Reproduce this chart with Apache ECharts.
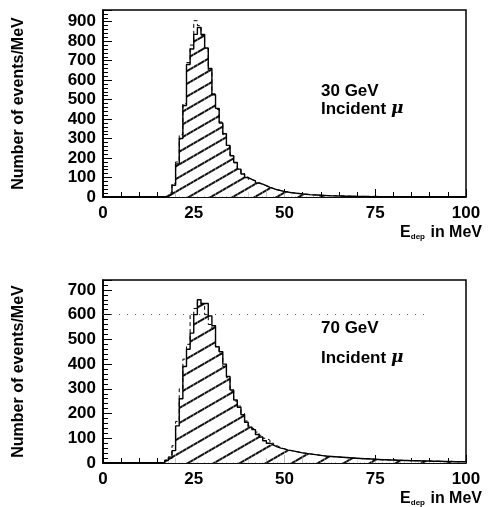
<!DOCTYPE html>
<html>
<head>
<meta charset="utf-8">
<script src="https://cdn.jsdelivr.net/npm/echarts@6/dist/echarts.min.js"></script>
<style>
  html, body { margin: 0; padding: 0; background: #fff; }
  #chart { width: 488px; height: 507px; }
</style>
</head>
<body>
<div id="chart"></div>
<script>
// Energy deposited per event, 1 MeV bins from 0 to 100 MeV.
// Histograms start at bin FIRST_BIN; earlier bins are empty.
const FIRST_BIN = 17;
const BIN_COUNT = 100;

// 30 GeV incident muons: measured (hatched, solid) and simulated (dashed)
const data30 = [5, 15, 60, 170, 300, 470, 680, 760, 835, 870, 835, 765, 660, 525, 455, 380, 325, 265, 212, 178,
  143, 118, 100, 90, 83, 72, 66, 58, 49, 43, 37, 33, 28, 25, 22, 20, 18, 16, 14, 12,
  11, 10, 9, 8, 7, 6, 6, 5, 5, 4, 4, 4, 3, 3, 3, 3, 2, 3, 2, 2,
  2, 2, 2, 2, 2, 1, 2, 1, 1, 1, 1, 1, 1, 1, 1, 1, 1, 1, 0, 1, 1, 1, 1];
const sim30 = [5, 20, 70, 180, 320, 480, 690, 780, 905, 880, 830, 760, 650, 530, 450, 385, 320, 260, 215, 175,
  145, 120, 102, 90, 82, 73, 65, 57, 50, 44, 38, 33, 29, 26, 23, 20, 18, 16, 14, 12,
  11, 10, 9, 8, 7, 6, 6, 5, 5, 4, 4, 4, 3, 3, 3, 3, 2, 3, 2, 2,
  2, 2, 2, 2, 2, 1, 2, 1, 1, 1, 1, 1, 1, 1, 1, 1, 1, 1, 0, 1, 1, 1, 1];

// 70 GeV incident muons
const data70 = [10, 20, 50, 150, 260, 390, 460, 525, 600, 660, 645, 645, 595, 555, 470, 450, 400, 350, 295, 255,
  225, 195, 165, 145, 135, 115, 105, 90, 80, 72, 65, 60, 57, 52, 50, 47, 44, 41, 39, 37,
  35, 33, 31, 29, 27, 26, 25, 24, 23, 22, 21, 20, 19, 18, 17, 17, 16, 15, 14, 13,
  13, 12, 12, 11, 11, 10, 10, 9, 9, 9, 8, 8, 8, 7, 7, 7, 6, 6, 6, 5, 5, 5, 5];
const sim70 = [12, 25, 70, 168, 300, 420, 480, 600, 625, 650, 640, 600, 560, 540, 470, 440, 390, 345, 290, 250,
  230, 200, 170, 150, 140, 125, 112, 100, 92, 80, 70, 62, 57, 52, 50, 47, 44, 41, 39, 37,
  35, 33, 31, 29, 27, 26, 25, 24, 23, 22, 21, 20, 19, 18, 17, 17, 16, 15, 14, 13,
  13, 12, 12, 11, 11, 10, 10, 9, 9, 9, 8, 8, 8, 7, 7, 7, 6, 6, 6, 5, 5, 5, 5];

// Axis settings
const xTicks = { min: 0, max: 100, interval: 25 };
const yMaxTop = 960;
const yMaxBottom = 740;
const guideLevel70 = 600;

const FONT = '"Liberation Sans", Arial, sans-serif';

// Full-length bin contents (zeros before FIRST_BIN)
function fullBins(arr) {
  const out = [];
  for (let i = 0; i < BIN_COUNT; i++) {
    const k = i - FIRST_BIN;
    out.push(k >= 0 && k < arr.length ? arr[k] : 0);
  }
  return out;
}
// Step outline points: [binStart, content] plus the closing edge
function stepPoints(arr) {
  const b = fullBins(arr);
  const pts = b.map((v, i) => [i, v]);
  pts.push([BIN_COUNT, b[BIN_COUNT - 1]]);
  return pts;
}
const binLabels = [];
for (let i = 0; i < BIN_COUNT; i++) binLabels.push(String(i));

function hatch(spacing) {
  return {
    symbol: 'rect',
    symbolSize: 1,
    color: '#111',
    dashArrayX: [1, 0],
    dashArrayY: [1.2, spacing],
    rotation: -Math.PI / 6
  };
}

function valueXAxis(gridIndex) {
  return {
    type: 'value', gridIndex: gridIndex,
    min: xTicks.min, max: xTicks.max, interval: xTicks.interval,
    axisLine: { show: true, lineStyle: { color: '#000', width: 1.5 } },
    axisTick: { show: true, inside: true, length: 8, lineStyle: { color: '#000', width: 1 } },
    minorTick: { show: true, splitNumber: 5, length: 5, lineStyle: { color: '#000', width: 1 } },
    splitLine: { show: false },
    axisLabel: { color: '#000', fontFamily: FONT, fontSize: 17, fontWeight: 'bold', margin: 8 },
    name: '{e|E}{s|dep}{t| in MeV}',
    nameLocation: 'end',
    nameGap: 16,
    nameTextStyle: {
      align: 'right', verticalAlign: 'top', padding: [28, 0, 0, 0],
      rich: {
        e: { fontFamily: FONT, fontSize: 16, fontWeight: 'bold', color: '#000' },
        s: { fontFamily: FONT, fontSize: 8, fontWeight: 'bold', color: '#000', verticalAlign: 'bottom', padding: [8, 1, 0, 0] },
        t: { fontFamily: FONT, fontSize: 16, fontWeight: 'bold', color: '#000' }
      }
    }
  };
}
function catXAxis(gridIndex) {
  return {
    type: 'category', gridIndex: gridIndex, data: binLabels, show: false,
    boundaryGap: true
  };
}
function yAxis(gridIndex, max) {
  return {
    type: 'value', gridIndex: gridIndex, min: 0, max: max, interval: 100,
    axisLine: { show: true, lineStyle: { color: '#000', width: 1.5 } },
    axisTick: { show: true, inside: true, length: 9, lineStyle: { color: '#000', width: 1 } },
    minorTick: { show: true, splitNumber: 5, length: 5, lineStyle: { color: '#000', width: 1 } },
    splitLine: { show: false },
    axisLabel: {
      color: '#000', fontFamily: FONT, fontSize: 17, fontWeight: 'bold', margin: 7,
      formatter: v => (v % 100 === 0 ? String(v) : '')
    },
    name: 'Number of events/MeV',
    nameLocation: 'middle',
    nameRotate: 90,
    nameGap: 76,
    nameTextStyle: { color: '#000', fontFamily: FONT, fontSize: 16, fontWeight: 'bold' }
  };
}

function histSeries(idx, data, sim, spacing) {
  return [
    {
      type: 'bar', xAxisIndex: idx * 2 + 1, yAxisIndex: idx,
      data: fullBins(data), barCategoryGap: '0%', barGap: '0%',
      itemStyle: { color: '#fff', decal: hatch(spacing) },
      silent: true, z: 1
    },
    {
      type: 'line', xAxisIndex: idx * 2, yAxisIndex: idx,
      data: stepPoints(sim), step: 'end', showSymbol: false,
      lineStyle: { color: '#000', width: 1, type: [4, 3] },
      silent: true, z: 3
    },
    {
      type: 'line', xAxisIndex: idx * 2, yAxisIndex: idx,
      data: stepPoints(data), step: 'end', showSymbol: false,
      lineStyle: { color: '#000', width: 1.4 },
      silent: true, z: 4
    }
  ];
}

const series = [].concat(histSeries(0, data30, sim30, 8.3), histSeries(1, data70, sim70, 10.5));
// dotted guide level in the lower panel
series.push({
  type: 'line', xAxisIndex: 2, yAxisIndex: 1, data: [], silent: true,
  markLine: {
    symbol: 'none', silent: true, label: { show: false },
    lineStyle: { color: '#555', type: [1, 7], width: 1.2 },
    data: [[{ coord: [0, guideLevel70] }, { coord: [90, guideLevel70] }]]
  }
});

const noteRich = {
  a: { fontFamily: FONT, fontSize: 17, fontWeight: 'bold', color: '#000' },
  mu: { fontFamily: '"DejaVu Serif", serif', fontSize: 17, fontStyle: 'italic', fontWeight: 'bold', color: '#000' }
};

const option = {
  animation: false,
  aria: { enabled: true, decal: { show: true } },
  grid: [
    { left: 103, right: 22, top: 10, height: 187, show: true, borderColor: '#000', borderWidth: 1.5, backgroundColor: 'transparent' },
    { left: 103, right: 22, top: 280, height: 188, show: true, borderColor: '#000', borderWidth: 1.5, backgroundColor: 'transparent' }
  ],
  xAxis: [valueXAxis(0), catXAxis(0), valueXAxis(1), catXAxis(1)],
  yAxis: [yAxis(0, yMaxTop), yAxis(1, yMaxBottom)],
  series: series,
  graphic: [
    {
      type: 'text', left: 321, top: 82,
      style: { text: '{a|30 GeV}\n{a|Incident }{mu|μ}', rich: noteRich, lineHeight: 18 }
    },
    {
      type: 'text', left: 321, top: 313,
      style: { text: '{a|70 GeV}\n{a|Incident }{mu|μ}', rich: noteRich, lineHeight: 30 }
    }
  ]
};

const chart = echarts.init(document.getElementById('chart'), null, { renderer: 'canvas' });
chart.setOption(option);
</script>
</body>
</html>
